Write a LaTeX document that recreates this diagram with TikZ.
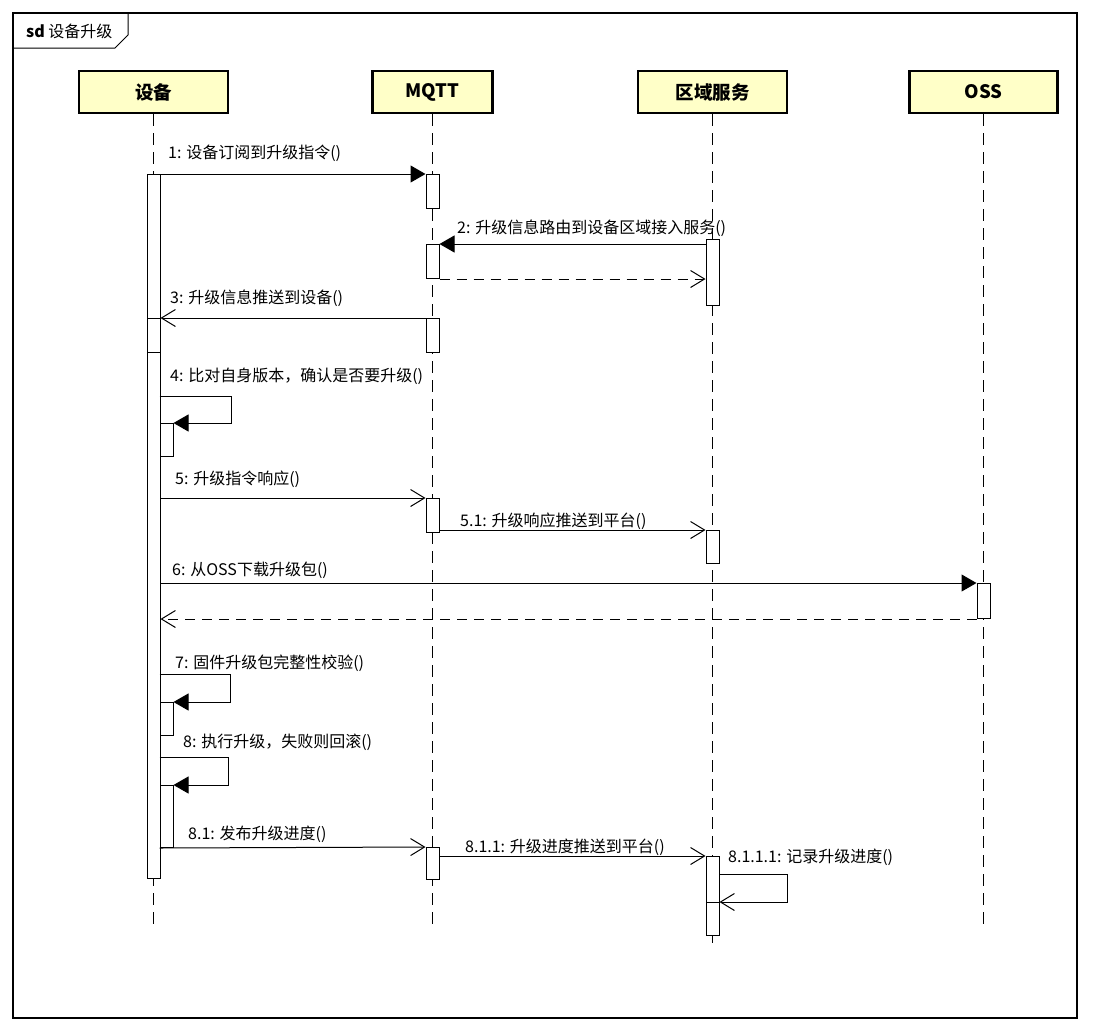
\documentclass[tikz,border=0pt]{standalone}
\usepackage{fontspec}
\setmainfont{Noto Sans CJK SC}
\usetikzlibrary{arrows.meta}
\definecolor{headfill}{RGB}{255,255,200}

\begin{document}
\begin{tikzpicture}[
  x=1pt, y=-1pt,
  every node/.style={font=\fontsize{16}{19}\selectfont},
  head/.style  = {draw, line width=2.2pt, fill=headfill, minimum height=42pt, inner sep=0pt, font=\fontsize{18.5}{20}\selectfont\bfseries},
  life/.style  = {line width=1pt, dash pattern=on 12pt off 7pt},
  act/.style   = {draw, fill=white, line width=1pt, inner sep=0pt, minimum width=13pt, anchor=north},
  msg/.style   = {anchor=west, inner sep=0pt},
  sync/.style  = {-{Triangle[length=15pt,width=17pt]}, line width=1pt},
  reply/.style = {-{Straight Barb[length=14pt,width=17pt]}, line width=1pt},
  back/.style  = {reply, dash pattern=on 10pt off 7pt},
]
  \useasboundingbox (0,0) rectangle (1100,1031);
  % frame
  \draw[line width=1.2pt] (13,13) rectangle (1077,1018);
  \draw[line width=1pt] (13,48) -- (115,48) -- (128,35) -- (128,13);
  \node[msg] (title) at (26,31) {\textbf{sd} 设备升级};

  % lifelines
  \node[head, minimum width=149pt] (dev)  at (153.5,92) {设备};
  \node[head, minimum width=120pt] (mqtt) at (432.5,92) {MQTT};
  \node[head, minimum width=149pt] (reg)  at (712.5,92) {区域服务};
  \node[head, minimum width=148pt] (oss)  at (983.5,92) {OSS};
  \foreach \h/\len in {dev/810, mqtt/812, reg/834, oss/812}
    \draw[life] (\h.south) -- ++(0,\len);

  % activations
  \node[act, minimum height=704pt] (d0) at (153.5,174) {};
  \node[act, minimum height=34pt]  (d3) at (153.5,318) {};
  \node[act, minimum height=33pt]  (d4) at (166.5,423) {};
  \node[act, minimum height=33pt]  (d7) at (166.5,702) {};
  \node[act, minimum height=62pt]  (d8) at (166.5,785) {};
  \node[act, minimum height=34pt]  (q1) at (432.5,174) {};
  \node[act, minimum height=34pt]  (q2) at (432.5,244) {};
  \node[act, minimum height=34pt]  (q3) at (432.5,318) {};
  \node[act, minimum height=34pt]  (q5) at (432.5,498) {};
  \node[act, minimum height=32pt]  (q81) at (432.5,847) {};
  \node[act, minimum height=66pt]  (r2) at (712.5,239) {};
  \node[act, minimum height=33pt]  (r51) at (712.5,530) {};
  \node[act, minimum height=79pt]  (r811) at (712.5,856) {};
  \node[act, minimum height=33pt]  (r8111) at (712.5,902) {};
  \node[act, minimum height=35pt]  (o6) at (983.5,583) {};

  % messages
  \draw[sync] (d0.north east) -- (q1.north west);
  \node[msg] (m1) at (168,153) {1: 设备订阅到升级指令()};
  \draw[sync] (r2.west |- q2.north) -- (q2.north east);
  \draw[back] (q2.south east) -- (r2.west |- q2.south);
  \node[msg] (m2) at (457,228) {2: 升级信息路由到设备区域接入服务()};
  \draw[reply] (q3.north west) -- (d3.north east);
  \node[msg] (m3) at (170,298) {3: 升级信息推送到设备()};
  \draw[sync] ([yshift=27pt]d4.north west) -- ++(72,0) |- (d4.north east);
  \node[msg] (m4) at (170,376) {4: 比对自身版本，确认是否要升级()};
  \draw[reply] (d0.east |- q5.north) -- (q5.north west);
  \node[msg] (m5) at (175,479) {5: 升级指令响应()};
  \draw[reply] (q5.east |- r51.north) -- (r51.north west);
  \node[msg] (m51) at (460,521) {5.1: 升级响应推送到平台()};
  \draw[sync] (d0.east |- o6.north) -- (o6.north west);
  \draw[back] (o6.south west) -- (d0.east |- o6.south);
  \node[msg] (m6) at (172,570) {6: 从OSS下载升级包()};
  \draw[sync] ([yshift=28pt]d7.north west) -- ++(71,0) |- (d7.north east);
  \node[msg] (m7) at (175,663) {7: 固件升级包完整性校验()};
  \draw[sync] ([yshift=28pt]d8.north west) -- ++(69,0) |- (d8.north east);
  \node[msg] (m8) at (183,742) {8: 执行升级，失败则回滚()};
  \draw[reply] (d8.south west) -- (q81.north west);
  \node[msg] (m81) at (188,834) {8.1: 发布升级进度()};
  \draw[reply] (q81.east |- r811.north) -- (r811.north west);
  \node[msg] (m811) at (465,847) {8.1.1: 升级进度推送到平台()};
  \draw[reply] ([yshift=28pt]r8111.north east) -- ++(68,0) |- (r8111.north east);
  \node[msg] (m8111) at (728,857) {8.1.1.1: 记录升级进度()};
\end{tikzpicture}
\end{document}
